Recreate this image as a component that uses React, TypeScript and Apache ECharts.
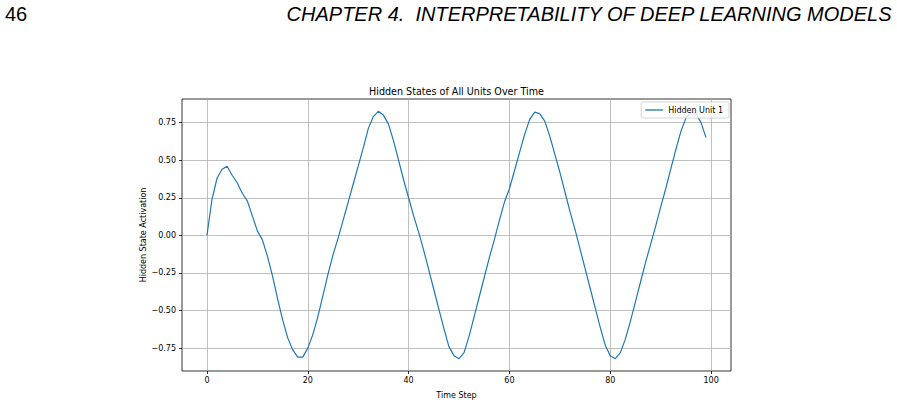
import { useEffect, useRef } from 'react';
import * as echarts from 'echarts';
import type { EChartsOption } from 'echarts';

// hidden state of unit 1, one value per time step (0..99)
const hiddenUnit1 = [
  0.0, 0.24, 0.38, 0.44, 0.46, 0.4, 0.35, 0.28, 0.23, 0.13,
  0.03, -0.03, -0.14, -0.27, -0.42, -0.56, -0.68, -0.76, -0.81, -0.81,
  -0.75, -0.66, -0.54, -0.4, -0.26, -0.13, -0.02, 0.1, 0.22, 0.34,
  0.46, 0.58, 0.71, 0.79, 0.825, 0.8, 0.74, 0.63, 0.5, 0.37,
  0.25, 0.13, 0.02, -0.1, -0.23, -0.36, -0.49, -0.62, -0.74, -0.8,
  -0.82, -0.78, -0.67, -0.54, -0.41, -0.28, -0.15, -0.03, 0.1, 0.22,
  0.31, 0.43, 0.55, 0.67, 0.77, 0.82, 0.81, 0.76, 0.66, 0.54,
  0.42, 0.29, 0.16, 0.04, -0.09, -0.22, -0.35, -0.48, -0.61, -0.73,
  -0.8, -0.82, -0.78, -0.69, -0.57, -0.44, -0.31, -0.18, -0.06, 0.06,
  0.19, 0.31, 0.44, 0.57, 0.69, 0.78, 0.82, 0.81, 0.75, 0.65,
];

const xTicks = [0, 20, 40, 60, 80, 100];
const yTicks = [-0.75, -0.5, -0.25, 0, 0.25, 0.5, 0.75];

const FONT = 'DejaVu Sans';

export default function App() {
  const chartRef = useRef<HTMLDivElement>(null);

  useEffect(() => {
    if (!chartRef.current) return;
    const chart = echarts.init(chartRef.current, undefined, { renderer: 'svg' });

    const option: EChartsOption = {
      animation: false,
      backgroundColor: '#fff',
      textStyle: { fontFamily: FONT },
      graphic: [
        {
          type: 'text',
          left: 5,
          top: 4,
          style: { text: '46', font: '20px "Liberation Sans"', fill: '#000' },
        },
        {
          type: 'text',
          right: 4,
          top: 4,
          style: {
            text: 'CHAPTER 4.  INTERPRETABILITY OF DEEP LEARNING MODELS',
            font: 'italic 20px "Liberation Sans"',
            fill: '#000',
          },
        },
        {
          type: 'text',
          x: 456.5,
          y: 91,
          style: {
            text: 'Hidden States of All Units Over Time',
            font: `9.6px "${FONT}"`,
            fill: '#000',
            align: 'center',
            verticalAlign: 'middle',
          },
        },
      ],
      legend: {
        right: 168,
        top: 102,
        icon: 'rect',
        itemWidth: 18,
        itemHeight: 1.3,
        padding: [4, 6, 4, 4],
        backgroundColor: 'rgba(255,255,255,0.8)',
        borderColor: '#cccccc',
        borderWidth: 0.8,
        borderRadius: 2,
        textStyle: { fontFamily: FONT, fontSize: 8, color: '#000' },
        data: ['Hidden Unit 1'],
      },
      grid: {
        left: 182,
        right: 166,
        top: 99,
        bottom: 32,
        show: true,
        borderColor: '#000',
        borderWidth: 0.8,
        backgroundColor: 'transparent',
      },
      xAxis: {
        type: 'value',
        min: -4.95,
        max: 103.95,
        name: 'Time Step',
        nameLocation: 'middle',
        nameGap: 20,
        nameTextStyle: { fontFamily: FONT, fontSize: 8, color: '#000' },
        axisLine: { show: false, onZero: false },
        axisTick: {
          show: true,
          customValues: xTicks,
          length: 3,
          lineStyle: { color: '#000', width: 0.8 },
        },
        axisLabel: {
          customValues: xTicks,
          fontFamily: FONT,
          fontSize: 8,
          color: '#000',
          margin: 5,
        },
        splitLine: { show: true, lineStyle: { color: '#b0b0b0', width: 0.8 } },
      },
      yAxis: {
        type: 'value',
        min: -0.902,
        max: 0.907,
        name: 'Hidden State Activation',
        nameLocation: 'middle',
        nameGap: 35,
        nameMoveOverlap: false,
        nameTextStyle: { fontFamily: FONT, fontSize: 8, color: '#000' },
        axisLine: { show: false, onZero: false },
        axisTick: {
          show: true,
          customValues: yTicks,
          length: 3,
          lineStyle: { color: '#000', width: 0.8 },
        },
        axisLabel: {
          customValues: yTicks,
          fontFamily: FONT,
          fontSize: 8,
          color: '#000',
          margin: 6,
          formatter: (v: number) => {
            const s = Math.abs(v).toFixed(2);
            return v < 0 ? '\u2212' + s : s;
          },
        },
        splitLine: { show: true, lineStyle: { color: '#b0b0b0', width: 0.8 } },
      },
      series: [
        {
          name: 'Hidden Unit 1',
          type: 'line',
          data: hiddenUnit1.map((v, i) => [i, v]),
          symbol: 'none',
          lineStyle: { color: '#1f77b4', width: 1.2 },
          itemStyle: { color: '#1f77b4' },
        },
      ],
    } as EChartsOption;

    chart.setOption(option);

    return () => {
      chart.dispose();
    };
  }, []);

  return (
    <div
      ref={chartRef}
      style={{ position: 'absolute', left: 0, top: 0, width: 897, height: 404 }}
    />
  );
}
